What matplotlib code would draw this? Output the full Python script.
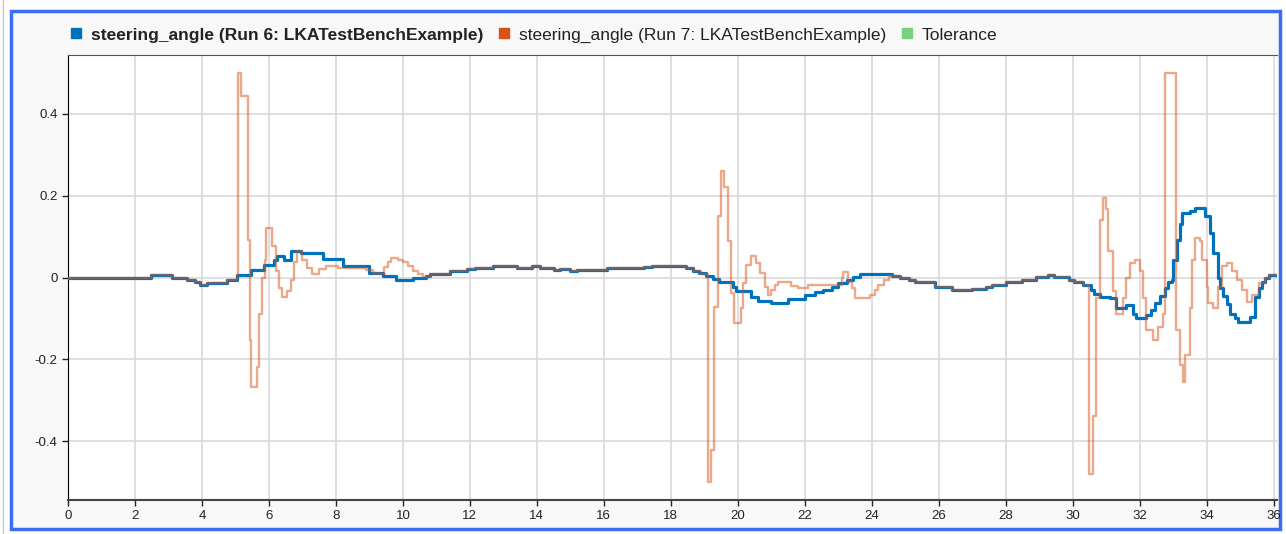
import matplotlib
matplotlib.use("Agg")
import matplotlib.pyplot as plt
from matplotlib.patches import Rectangle
from matplotlib.lines import Line2D

plt.rcParams['font.family'] = ['Liberation Sans', 'DejaVu Sans']
plt.rcParams['axes.unicode_minus'] = False

# Run 6 (blue) - breakpoints of the staircase signal
t_run6 = [0.0, 2.47, 3.1, 3.55, 3.8, 3.95, 4.15, 4.75, 5.05, 5.45, 5.85, 6.15, 6.25,
          6.45, 6.65, 6.95, 7.6, 8.2, 9.0, 9.4, 9.8, 10.3, 10.7, 10.8, 11.4, 11.9,
          12.15, 12.7, 13.4, 13.85, 14.1, 14.5, 14.7, 15.0, 15.2, 16.1, 17.2, 17.45,
          18.45, 18.65, 18.85, 19.05, 19.25, 19.45, 19.85, 19.95, 20.4, 20.6, 21.0,
          21.5, 22.0, 22.3, 22.55, 22.8, 23.0, 23.25, 23.45, 23.65, 24.6, 24.85,
          25.1, 25.3, 25.9, 26.4, 27.0, 27.4, 27.6, 28.0, 28.5, 28.9, 29.25, 29.45,
          29.9, 30.05, 30.3, 30.55, 30.65, 30.8, 31.1, 31.3, 31.6, 31.8, 31.9, 32.2,
          32.35, 32.45, 32.6, 32.75, 32.85, 32.95, 33.0, 33.1, 33.2, 33.27, 33.5,
          33.65, 33.95, 34.1, 34.2, 34.35, 34.4, 34.5, 34.6, 34.7, 34.85, 34.95,
          35.3, 35.45, 35.55, 35.65, 35.75, 35.85, 36.1]
y_run6 = [0.0, 0.006, 0.0, -0.006, -0.012, -0.018, -0.014, -0.006, 0.007, 0.019, 0.031,
          0.043, 0.052, 0.043, 0.064, 0.06, 0.045, 0.027, 0.011, 0.004, -0.006, -0.002,
          0.003, 0.008, 0.015, 0.02, 0.024, 0.028, 0.024, 0.028, 0.022, 0.018, 0.02,
          0.015, 0.019, 0.023, 0.026, 0.028, 0.023, 0.017, 0.011, 0.004, -0.004,
          -0.012, -0.024, -0.034, -0.047, -0.057, -0.063, -0.053, -0.043, -0.036,
          -0.03, -0.022, -0.014, -0.006, 0.001, 0.008, 0.004, 0.0, -0.006, -0.012,
          -0.022, -0.03, -0.028, -0.024, -0.018, -0.012, -0.006, 0.001, 0.006, 0.002,
          -0.005, -0.012, -0.018, -0.03, -0.04, -0.047, -0.05, -0.075, -0.067, -0.09,
          -0.1, -0.092, -0.08, -0.063, -0.045, -0.026, -0.012, -0.006, 0.043, 0.092,
          0.13, 0.158, 0.162, 0.17, 0.15, 0.109, 0.06, 0.0, -0.026, -0.045, -0.065,
          -0.088, -0.1, -0.108, -0.096, -0.047, -0.025, -0.01, 0.0, 0.005, 0.005]

# Run 7 (orange)
t_run7 = [0.0, 2.47, 3.1, 3.55, 3.8, 3.95, 4.15, 4.75, 5.05, 5.09, 5.17, 5.36, 5.42,
          5.47, 5.65, 5.7, 5.8, 5.88, 5.92, 6.1, 6.2, 6.3, 6.4, 6.55, 6.65, 6.75,
          6.85, 7.0, 7.15, 7.3, 7.5, 7.7, 8.05, 8.9, 9.1, 9.3, 9.45, 9.55, 9.65,
          9.85, 10.0, 10.15, 10.3, 10.45, 10.6, 10.8, 11.4, 11.9, 12.15, 12.7, 13.4,
          13.85, 14.1, 14.5, 14.7, 15.0, 15.2, 16.1, 17.2, 17.45, 18.45, 18.7, 18.9,
          19.1, 19.2, 19.3, 19.4, 19.5, 19.6, 19.7, 19.8, 19.9, 20.1, 20.15, 20.25,
          20.4, 20.55, 20.65, 20.8, 20.9, 21.0, 21.1, 21.2, 21.6, 21.8, 22.1, 22.4,
          23.1, 23.15, 23.3, 23.4, 23.5, 23.95, 24.1, 24.2, 24.36, 24.5, 24.6, 24.85,
          25.1, 25.3, 25.9, 26.4, 27.0, 27.4, 27.6, 28.0, 28.5, 28.9, 29.25, 29.45,
          29.9, 30.05, 30.3, 30.5, 30.6, 30.7, 30.8, 30.9, 31.0, 31.05, 31.2, 31.3,
          31.5, 31.6, 31.7, 31.85, 32.0, 32.1, 32.2, 32.4, 32.55, 32.7, 32.75, 33.07,
          33.2, 33.3, 33.35, 33.5, 33.55, 33.65, 33.8, 33.85, 34.0, 34.05, 34.2,
          34.35, 34.45, 34.6, 34.75, 34.9, 35.05, 35.2, 35.35, 35.55, 35.75, 35.85,
          36.1]
y_run7 = [0.0, 0.006, 0.0, -0.006, -0.012, -0.018, -0.014, -0.006, 0.007, 0.5, 0.444,
          0.092, -0.153, -0.267, -0.218, -0.088, 0.0, 0.043, 0.121, 0.076, 0.015,
          -0.026, -0.047, -0.034, -0.006, 0.039, 0.064, 0.043, 0.023, 0.009, 0.02,
          0.029, 0.022, 0.018, 0.012, 0.008, 0.025, 0.038, 0.047, 0.042, 0.037,
          0.027, 0.016, 0.008, 0.002, 0.008, 0.015, 0.02, 0.024, 0.028, 0.024, 0.028,
          0.022, 0.018, 0.02, 0.015, 0.019, 0.023, 0.026, 0.028, 0.023, 0.015, 0.008,
          -0.5, -0.42, -0.071, 0.15, 0.26, 0.22, 0.089, -0.039, -0.112, -0.075,
          -0.014, 0.031, 0.052, 0.035, 0.011, -0.022, -0.043, -0.03, -0.018, -0.01,
          -0.02, -0.026, -0.018, -0.018, -0.002, 0.013, -0.01, -0.025, -0.049, -0.042,
          -0.03, -0.018, -0.006, 0.004, 0.004, 0.0, -0.006, -0.012, -0.022, -0.03,
          -0.028, -0.024, -0.018, -0.012, -0.006, 0.001, 0.006, 0.002, -0.005, -0.012,
          -0.018, -0.48, -0.337, -0.05, 0.14, 0.195, 0.166, 0.064, -0.034, -0.088,
          -0.05, 0.0, 0.035, 0.043, 0.015, -0.05, -0.128, -0.153, -0.12, -0.088, 0.5,
          -0.128, -0.214, -0.255, -0.19, -0.075, 0.043, 0.097, 0.088, 0.043, -0.022,
          -0.063, -0.075, -0.022, 0.027, 0.035, 0.015, -0.006, -0.03, -0.059, -0.043,
          -0.014, 0.0, 0.005, 0.005]

labels = ['steering_angle (Run 6: LKATestBenchExample)',
          'steering_angle (Run 7: LKATestBenchExample)',
          'Tolerance']
colors = ['#0072BD', '#D95319', '#77D17F']

W, H = 1286, 534
fig = plt.figure(figsize=(W / 100, H / 100), dpi=100, facecolor='white')

# panel background with blue frame
fig.patches.append(Rectangle((11 / W, 5 / H), 1269 / W, 518 / H, transform=fig.transFigure,
                             facecolor='#f8f8f8', edgecolor='#3d6ef2', linewidth=2.5,
                             zorder=-5))
fig.add_artist(Line2D([3 / W, 3 / W], [0, 1], color='#c8c8c8', lw=1))

ax = fig.add_axes([68 / W, (H - 500) / H, (1277 - 68) / W, (500 - 55) / H])
ax.set_zorder(2)
ax.set_facecolor('white')

ax.plot(t_run6, y_run6, drawstyle='steps-post', color=colors[0], lw=2.3, zorder=3)
ax.plot(t_run7, y_run7, drawstyle='steps-post', color=colors[1], lw=1.7, alpha=0.5, zorder=4)

ax.set_xlim(0, 36.1)
ax.set_ylim(-0.543, 0.543)
ax.set_xticks(range(0, 37, 2))
ax.set_yticks([-0.4, -0.2, 0, 0.2, 0.4])
ax.set_yticklabels(['-0.4', '-0.2', '0', '0.2', '0.4'])
ax.grid(True, color='#d9d9d9', lw=1.2)
ax.set_axisbelow(True)
ax.tick_params(labelsize=9.5, colors='#222222', length=4, width=1)
ax.spines['left'].set_color('black')
ax.spines['bottom'].set_color('#444444')
ax.spines['bottom'].set_linewidth(1.5)
ax.spines['top'].set_color('#555555')
ax.spines['right'].set_visible(False)

handles = [Line2D([], [], marker='s', linestyle='none', markersize=7,
                  markerfacecolor=c, markeredgecolor=c) for c in colors]
leg = fig.legend(handles, labels, loc='center left', bbox_to_anchor=(64 / W, 1 - 35 / H),
                 ncol=3, frameon=False, fontsize=12.5, handlelength=0.6,
                 handletextpad=0.55, columnspacing=0.9, borderaxespad=0)
leg.get_texts()[0].set_fontweight('bold')
for tx in leg.get_texts():
    tx.set_color('#222222')

fig.savefig('out.png', dpi=100, facecolor=fig.get_facecolor())
